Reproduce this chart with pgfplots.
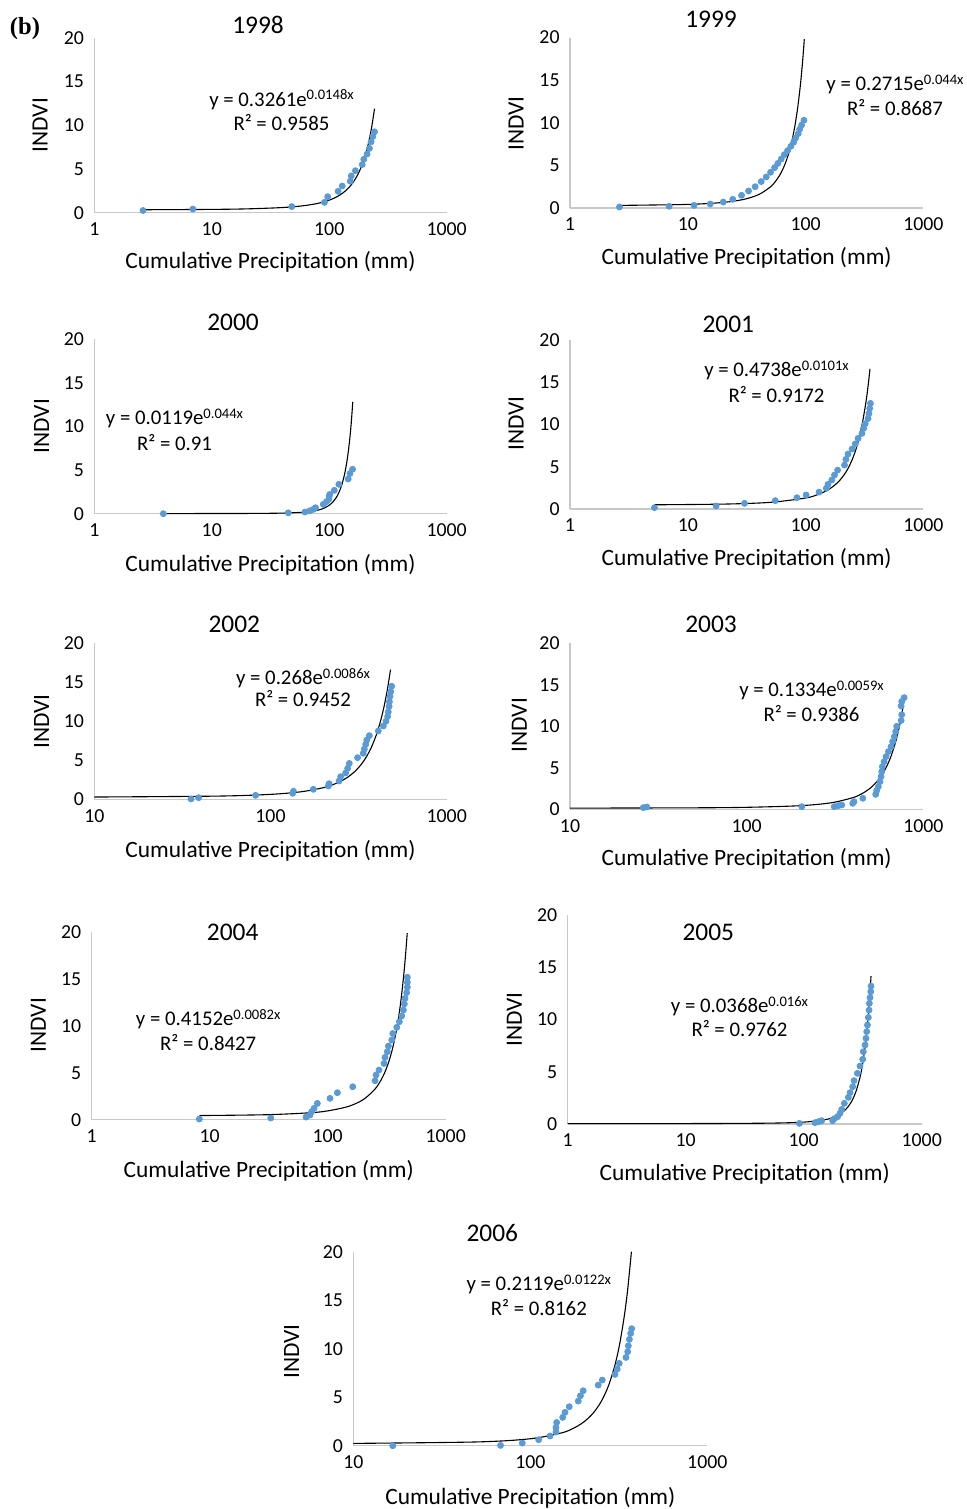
\documentclass[border=0pt]{standalone}
\usepackage{pgfplots}
\pgfplotsset{compat=1.18}
\usepackage{fontspec}
\setmainfont{Carlito}
\newfontfamily\panelfont{Liberation Serif}

\definecolor{dotblue}{HTML}{5B9BD5}
\definecolor{axisgray}{HTML}{C8C8C8}

\newcommand{\tickfont}{\fontsize{9.9}{11}\selectfont}
\newcommand{\titlefont}{\fontsize{12.7}{15}\selectfont}
\newcommand{\labelfont}{\fontsize{11.7}{14}\selectfont}
\newcommand{\eqfont}{\fontsize{10.4}{12}\selectfont}
\newcommand{\supfont}{\fontsize{7.3}{8}\selectfont}
% fitted exponential: coefficient, exponent
\newcommand{\expfit}[2]{\eqfont y = #1e\raisebox{3pt}{\supfont #2x}}

\pgfkeys{/pgf/number format/.cd, assume math mode=true, 1000 sep={}}

% one year panel: left, bottom, width, height, xmin
\newcommand{\startpanel}[5]{%
\begin{axis}[scale only axis, anchor=south west, clip=false,
    xmode=log, log basis x=10, xmin=#5, xmax=1000, ymin=0, ymax=20,
    at={(#1,#2)}, width=#3, height=#4,
    axis lines=left,
    axis line style={-, draw=axisgray, line width=0.7pt},
    major tick length=0pt, minor tick length=0pt,
    xtick={1,10,100,1000}, log ticks with fixed point,
    ytick={0,5,10,15,20},
    tick label style={font=\tickfont, text=black},
    xticklabel style={yshift=-1.5pt},
    yticklabel style={xshift=-1.7pt}]}

\pgfplotsset{
  indvidots/.style={only marks, mark=*, mark size=1.5pt,
    mark options={draw=dotblue, fill=dotblue}},
  indvifit/.style={black, line width=0.55pt, smooth, no markers},
}

\begin{document}
\begin{tikzpicture}
\path[use as bounding box] (0pt,0pt) rectangle (483pt,-754.5pt);

% ---------------- 1998 ----------------
\startpanel{47.15pt}{-106.35pt}{176.2pt}{87.5pt}{1}
\addplot[indvidots] coordinates {(2.6,0.25) (6.9,0.42) (48,0.7) (91,1.18) (97,1.83) (119,2.44) (129,3.05) (151,3.6) (154,4.2) (167,4.8) (191,5.5) (197,6.1) (210,6.7) (220,7.35) (227,8.1) (235,8.7) (243,9.25)};
\addplot[indvifit] coordinates {(2.6,0.3389) (10,0.3781) (20,0.4384) (40,0.5895) (60,0.7925) (80,1.0655) (100,1.4325) (120,1.926) (140,2.589) (160,3.481) (180,4.681) (200,6.293) (210,7.298) (220,8.460) (230,9.809) (243,11.89)};
\end{axis}

% ---------------- 1999 ----------------
\startpanel{285pt}{-104pt}{176.7pt}{85.2pt}{1}
\addplot[indvidots] coordinates {(2.63,0.12) (6.94,0.2) (11.3,0.31) (15.5,0.47) (20,0.7) (24.1,1.02) (28.6,1.49) (32.8,2.0) (37.3,2.5) (42,3.1) (46.3,3.64) (50.4,4.19) (54.6,4.74) (58.2,5.24) (62.1,5.75) (65.9,6.26) (70.3,6.73) (75,7.24) (79.1,7.71) (82.2,8.2) (86.6,8.73) (89,9.24) (92.5,9.74) (96.8,10.3)};
\addplot[indvifit] coordinates {(2.63,0.3048) (10,0.4216) (20,0.6546) (30,1.0163) (40,1.578) (50,2.450) (55,3.053) (60,3.805) (65,4.741) (70,5.907) (75,7.361) (80,9.172) (85,11.43) (90,14.24) (94,16.98) (97.5,19.81)};
\end{axis}

% ---------------- 2000 ----------------
\startpanel{47.15pt}{-256.85pt}{176.2pt}{87.2pt}{1}
\addplot[indvidots] coordinates {(3.87,0.0) (44.8,0.1) (62.1,0.19) (68.4,0.34) (73.1,0.5) (76.5,0.69) (89,1.07) (94.9,1.38) (99.3,1.68) (100,2.03) (101,2.2) (110.4,2.68) (120.8,3.37) (145,3.98) (150,4.6) (158,5.1)};
\addplot[indvifit] coordinates {(3.87,0.0141) (20,0.0287) (40,0.0692) (60,0.1668) (70,0.259) (80,0.402) (90,0.624) (100,0.969) (105,1.208) (110,1.505) (115,1.875) (120,2.337) (125,2.912) (130,3.628) (135,4.521) (140,5.633) (145,7.020) (150,8.748) (154,10.43) (158.7,12.83)};
\end{axis}

% ---------------- 2001 ----------------
\startpanel{285pt}{-254.5pt}{176.7pt}{84.5pt}{1}
\addplot[indvidots] coordinates {(5.21,0.16) (17.4,0.36) (30.3,0.67) (55.3,0.99) (84.4,1.34) (101,1.66) (130,2.0) (150,2.45) (155,2.92) (167,3.43) (176,4.02) (187,4.6) (214,5.2) (220,5.88) (229,6.5) (248,7.1) (264,7.7) (279,8.36) (301,8.95) (311,9.55) (321,10.1) (339,10.7) (345,11.3) (350,11.9) (355,12.5)};
\addplot[indvifit] coordinates {(5.21,0.4994) (20,0.5798) (50,0.785) (100,1.301) (125,1.675) (150,2.155) (175,2.775) (200,3.572) (225,4.598) (250,5.918) (275,7.619) (300,9.806) (325,12.62) (340,14.69) (352,16.58)};
\end{axis}

% ---------------- 2002 ----------------
\startpanel{47.15pt}{-399.65pt}{176.2pt}{78pt}{10}
\addplot[indvidots] coordinates {(35.4,0.04) (39.1,0.21) (82.3,0.51) (133.6,0.77) (135,1.03) (175,1.28) (213,1.71) (215,2.0) (245,2.35) (250,2.9) (267,3.38) (274,3.97) (280,4.6) (312,5.34) (336,5.9) (341,6.45) (347,7.05) (352,7.6) (364,8.16) (409,8.76) (437,9.4) (452,10.0) (462,10.6) (466,11.2) (471,11.9) (473,12.5) (477,13.2) (481,13.8) (487,14.5)};
\addplot[indvifit] coordinates {(10,0.2921) (50,0.412) (100,0.6333) (150,0.9736) (200,1.4966) (225,1.856) (250,2.3008) (275,2.853) (300,3.537) (325,4.385) (350,5.437) (375,6.741) (400,8.358) (420,9.929) (440,11.79) (460,14.00) (480,16.63)};
\end{axis}

% ---------------- 2003 ----------------
\startpanel{285pt}{-404.65pt}{176.7pt}{83pt}{10}
\addplot[indvidots] coordinates {(26,0.2) (27.2,0.28) (205,0.32) (313,0.32) (330,0.44) (345,0.52) (398,0.72) (405,0.92) (454,1.33) (537,1.8) (544,2.25) (556,2.73) (568,3.33) (576,3.94) (581,4.54) (586,5.14) (599,5.74) (615,6.35) (634,6.95) (656,7.55) (670,8.15) (685,8.76) (697,9.36) (706,10.0) (748,10.7) (754,11.4) (748,12.45) (754,13.0) (778,13.45)};
\addplot[indvifit] coordinates {(10,0.1415) (50,0.1792) (100,0.2407) (200,0.4341) (300,0.7832) (400,1.413) (450,1.898) (500,2.549) (550,3.423) (600,4.598) (650,6.175) (700,8.295) (740,10.50) (778,13.14)};
\end{axis}

% ---------------- 2004 ----------------
\startpanel{45.85pt}{-559.85pt}{177pt}{93.7pt}{1}
\addplot[indvidots] coordinates {(8.17,0.07) (32.9,0.18) (65.5,0.28) (70.8,0.5) (73.1,0.85) (76.6,1.21) (81.7,1.74) (104.6,2.28) (120.8,2.88) (163,3.52) (252,4.16) (257,4.77) (272,5.3) (300,6.0) (306,6.65) (320,7.26) (327,7.86) (349,8.5) (356,9.2) (385,9.86) (405,10.46) (424,11.07) (438,11.7) (446,12.35) (452,12.95) (467,13.56) (473,14.13) (473,14.66) (473,15.2)};
\addplot[indvifit] coordinates {(8.17,0.444) (30,0.531) (70,0.737) (100,0.9427) (150,1.4205) (200,2.1404) (250,3.2252) (275,3.959) (300,4.860) (325,5.966) (350,7.323) (375,8.989) (400,11.034) (420,13.0) (440,15.32) (455,17.32) (472,19.91)};
\end{axis}

% ---------------- 2005 ----------------
\startpanel{283.85pt}{-562pt}{177pt}{104.5pt}{1}
\addplot[indvidots] coordinates {(91.9,0.06) (124.7,0.13) (133,0.22) (142,0.32) (176,0.32) (182,0.51) (194,0.7) (203,1.02) (210,1.4) (221,1.98) (239,2.55) (247,3.0) (260,3.57) (267,4.15) (285,4.85) (300,5.55) (316,6.19) (320,6.92) (331,7.56) (337,8.2) (342,8.84) (347,9.47) (353,10.2) (358,10.9) (360,11.55) (365,12.1) (370,12.66) (372,13.2)};
\addplot[indvifit] coordinates {(1,0.0374) (10,0.0432) (50,0.0819) (100,0.1823) (150,0.4056) (175,0.6052) (200,0.9028) (225,1.347) (250,2.009) (275,2.997) (300,4.471) (315,5.685) (330,7.228) (340,8.479) (350,9.952) (360,11.68) (372,14.15)};
\end{axis}

% ---------------- 2006 ----------------
\startpanel{176.65pt}{-722.85pt}{177pt}{97pt}{10}
\addplot[indvidots] coordinates {(16.7,0.0) (67.9,0.03) (90.1,0.27) (111.5,0.62) (129.2,1.0) (139.6,1.41) (139.6,1.89) (140.9,2.4) (152.4,2.92) (157,3.44) (166,4.02) (186.6,4.6) (192,5.15) (199,5.67) (242,6.25) (255,6.77) (301,7.35) (310,7.9) (318,8.49) (347,9.1) (355,9.69) (358,10.3) (363,10.96) (369,11.58) (374,12.06)};
\addplot[indvifit] coordinates {(10,0.2394) (50,0.390) (100,0.7177) (150,1.321) (175,1.792) (200,2.431) (225,3.298) (250,4.474) (275,6.07) (300,8.235) (320,10.51) (340,13.42) (355,16.11) (372.7,20.0)};
\end{axis}

% panel tag
\node[font=\panelfont\bfseries\fontsize{12.3}{14}\selectfont] at (12.5pt,-14.5pt) {(b)};

% titles
\begin{scope}[every node/.style={font=\titlefont, inner sep=0pt}]
\node at (129pt,-12.5pt) {1998};
\node at (355.5pt,-9.5pt) {1999};
\node at (116.5pt,-161.15pt) {2000};
\node at (364.15pt,-162pt) {2001};
\node at (117.15pt,-312pt) {2002};
\node at (355.5pt,-312pt) {2003};
\node at (116.35pt,-466.15pt) {2004};
\node at (354.15pt,-466.15pt) {2005};
\node at (246.15pt,-616.65pt) {2006};
\end{scope}

% x-axis labels
\begin{scope}[every node/.style={font=\labelfont, inner sep=0pt, anchor=base}]
\node at (135.25pt,-134pt) {Cumulative Precipitation (mm)};
\node at (373.3pt,-132.15pt) {Cumulative Precipitation (mm)};
\node at (135.25pt,-285.65pt) {Cumulative Precipitation (mm)};
\node at (373.3pt,-282.65pt) {Cumulative Precipitation (mm)};
\node at (135.25pt,-428.5pt) {Cumulative Precipitation (mm)};
\node at (373.3pt,-432.65pt) {Cumulative Precipitation (mm)};
\node at (134.35pt,-588.85pt) {Cumulative Precipitation (mm)};
\node at (372.35pt,-590.15pt) {Cumulative Precipitation (mm)};
\node at (265.15pt,-752.2pt) {Cumulative Precipitation (mm)};
\end{scope}

% y-axis labels
\begin{scope}[every node/.style={font=\labelfont, inner sep=0pt, rotate=90}]
\node at (20pt,-62.5pt) {INDVI};
\node at (258pt,-61.65pt) {INDVI};
\node at (20.85pt,-213pt) {INDVI};
\node at (258pt,-211.65pt) {INDVI};
\node at (20.85pt,-360.85pt) {INDVI};
\node at (259.65pt,-362.5pt) {INDVI};
\node at (19.15pt,-512.5pt) {INDVI};
\node at (257.15pt,-509.65pt) {INDVI};
\node at (145.85pt,-675.85pt) {INDVI};
\end{scope}

% trendline equations
\begin{scope}[every node/.style={inner sep=0pt, anchor=base}]
\node at (140.75pt,-53pt) {\expfit{0.3261}{0.0148}};
\node at (140.75pt,-65.35pt) {\eqfont R² = 0.9585};
\node at (447.5pt,-45.35pt) {\expfit{0.2715}{0.044}};
\node at (447.5pt,-58pt) {\eqfont R² = 0.8687};
\node at (87.25pt,-212pt) {\expfit{0.0119}{0.044}};
\node at (87.25pt,-225.35pt) {\eqfont R² = 0.91};
\node at (388.25pt,-188.35pt) {\expfit{0.4738}{0.0101}};
\node at (388.25pt,-201.35pt) {\eqfont R² = 0.9172};
\node at (151.5pt,-342pt) {\expfit{0.268}{0.0086}};
\node at (151.5pt,-353.35pt) {\eqfont R² = 0.9452};
\node at (405.75pt,-348.35pt) {\expfit{0.1334}{0.0059}};
\node at (405.75pt,-360.5pt) {\eqfont R² = 0.9386};
\node at (104.1pt,-512.5pt) {\expfit{0.4152}{0.0082}};
\node at (104.1pt,-525.35pt) {\eqfont R² = 0.8427};
\node at (369.75pt,-506.35pt) {\expfit{0.0368}{0.016}};
\node at (369.75pt,-518.35pt) {\eqfont R² = 0.9762};
\node at (269.4pt,-645pt) {\expfit{0.2119}{0.0122}};
\node at (269.4pt,-657.5pt) {\eqfont R² = 0.8162};
\end{scope}
\end{tikzpicture}
\end{document}
